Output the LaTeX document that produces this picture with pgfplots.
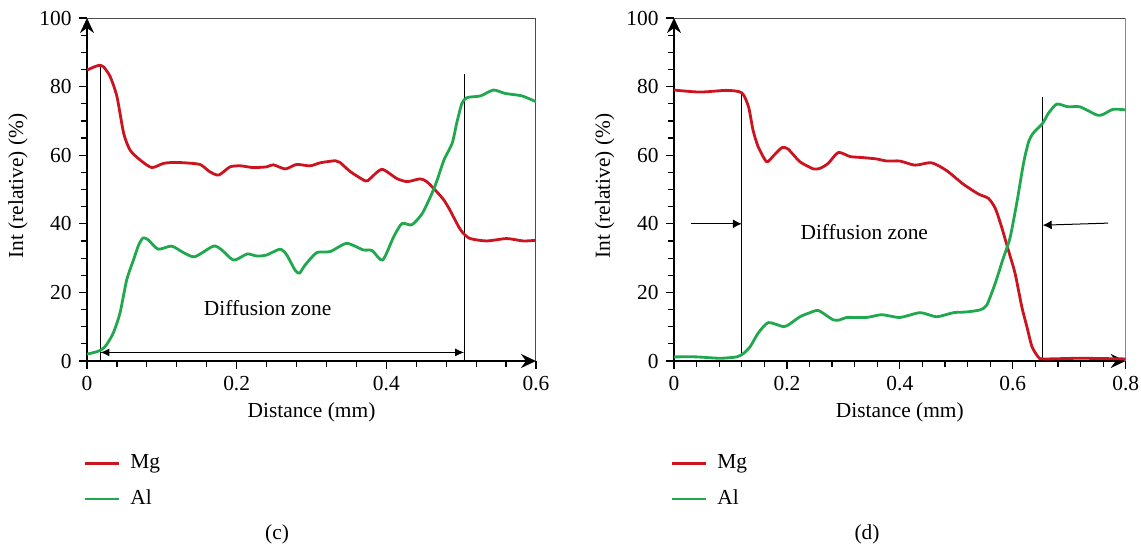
\documentclass[border=0pt]{standalone}
\usepackage{fontspec}
\setmainfont{Liberation Serif}
\usepackage{pgfplots}
\pgfplotsset{compat=1.18}
\usetikzlibrary{arrows.meta}
\definecolor{mgred}{RGB}{204,20,32}
\definecolor{algreen}{RGB}{32,168,78}

\pgfplotsset{
  edsax/.style={
    scale only axis,
    anchor=south west,
    height=171.5pt,
    axis lines=left,
    axis line style={line width=0.9pt,-{Stealth[length=7.5pt,width=7pt,inset=2.5pt]}},
    enlargelimits=false,
    ymin=0, ymax=100,
    ytick={0,20,...,100},
    minor y tick num=3,
    minor x tick num=4,
    tick align=outside,
    major tick length=4pt,
    minor tick length=3pt,
    tick style={line width=0.6pt,black},
    /pgf/number format/assume math mode=true,
    xlabel={Distance (mm)},
    ylabel={Int (relative) (\%)},
    every axis x label/.style={at={(axis description cs:0.5,-0.149)},anchor=center},
    every axis y label/.style={at={(axis description cs:-0.1535,0.51)},rotate=90,anchor=center},
    legend style={at={(axis description cs:0,-0.249)},anchor=north west,draw=none,fill=none,
      row sep=5pt,column sep=3pt,inner xsep=0pt,xshift=-2pt},
    legend cell align=left,
    every axis plot/.append style={line width=1.4pt,line join=round,smooth,tension=0.4},
  }
}

\begin{document}
\fontsize{10.7}{12.8}\selectfont
\begin{tikzpicture}
\useasboundingbox (0,0) rectangle (570.5pt,274pt);

% (c)
\begin{axis}[edsax,
  at={(43.5pt,93.5pt)},
  width=224.5pt,
  xmin=0, xmax=0.6,
  xtick={0,0.2,0.4,0.6},
]
\draw[black!70,line width=0.6pt] (axis cs:0,100) -- (axis cs:0.6,100) -- (axis cs:0.6,0);
\draw[line width=0.5pt] (axis cs:0.018,0) -- (axis cs:0.018,86);
\draw[line width=0.5pt] (axis cs:0.504,0) -- (axis cs:0.504,83.7);
\draw[line width=0.5pt,{Latex[length=4.5pt,width=4pt]}-{Latex[length=4.5pt,width=4pt]}]
  (axis cs:0.018,2.5) -- (axis cs:0.504,2.5);
\node at (axis cs:0.2414,15.45) {Diffusion zone};
\addplot[mgred] coordinates {
  (0,84.8)(0.008,85.6)(0.016,86.2)(0.022,85.8)(0.031,82.9)(0.040,77.1)(0.049,66.4)
  (0.0575,61.5)(0.071,58.6)(0.0865,56.4)(0.102,57.6)(0.115,57.9)(0.129,57.8)(0.151,57.3)
  (0.164,55.2)(0.176,54.2)(0.191,56.6)(0.205,56.9)(0.222,56.4)(0.240,56.6)(0.249,57.2)
  (0.265,56.0)(0.280,57.3)(0.298,56.9)(0.312,57.8)(0.332,58.4)(0.338,57.9)(0.352,55.2)
  (0.372,52.5)(0.378,53.1)(0.394,55.9)(0.414,53.2)(0.428,52.3)(0.445,53.1)(0.454,52.3)
  (0.468,49.2)(0.477,46.9)(0.485,44.0)(0.497,39.0)(0.503,37.2)(0.512,35.7)(0.534,35.0)
  (0.561,35.7)(0.583,35.0)(0.6,35.2)};
\addlegendentry{Mg}
\addplot[algreen] coordinates {
  (0,2.0)(0.013,2.7)(0.020,3.4)(0.026,4.7)(0.035,8.1)(0.044,13.9)(0.053,23.6)(0.062,29.4)
  (0.069,33.8)(0.075,35.9)(0.082,35.3)(0.095,32.6)(0.113,33.5)(0.129,31.6)(0.144,30.4)
  (0.169,33.5)(0.180,32.4)(0.196,29.4)(0.214,31.2)(0.227,30.6)(0.240,30.9)(0.258,32.6)
  (0.267,30.9)(0.278,26.5)(0.284,25.6)(0.2915,28.0)(0.307,31.6)(0.325,31.9)(0.347,34.3)
  (0.369,32.4)(0.381,32.2)(0.395,29.4)(0.410,36.3)(0.421,40.1)(0.434,39.7)(0.448,43.0)
  (0.461,48.9)(0.468,52.8)(0.477,58.6)(0.488,63.5)(0.494,69.3)(0.501,75.1)(0.508,76.8)
  (0.526,77.3)(0.543,79.0)(0.559,78.0)(0.581,77.3)(0.6,75.6)};
\addlegendentry{Al}
\end{axis}

% (d)
\begin{axis}[edsax,
  at={(337pt,93.5pt)},
  width=225.85pt,
  xmin=0, xmax=0.8,
  xtick={0,0.2,0.4,0.6,0.8},
]
\draw[black!70,line width=0.6pt] (axis cs:0,100) -- (axis cs:0.8,100) -- (axis cs:0.8,0);
\draw[line width=0.5pt] (axis cs:0.12,1.7) -- (axis cs:0.12,78.2);
\draw[line width=0.5pt] (axis cs:0.653,0.7) -- (axis cs:0.653,77);
\draw[line width=0.5pt,-{Latex[length=4.5pt,width=4.5pt]}] (axis cs:0.030,40) -- (axis cs:0.12,40);
\draw[line width=0.5pt,-{Latex[length=4.5pt,width=4.5pt]}] (axis cs:0.769,40.2) -- (axis cs:0.653,39.6);
\node at (axis cs:0.337,37.7) {Diffusion zone};
\addplot[mgred] coordinates {
  (0,79.0)(0.046,78.4)(0.093,78.9)(0.120,78.2)(0.132,74.1)(0.140,67.3)(0.149,62.5)
  (0.164,58.1)(0.176,59.8)(0.191,62.2)(0.202,61.8)(0.223,58.1)(0.247,56.0)(0.259,56.2)
  (0.273,57.6)(0.291,60.8)(0.312,59.6)(0.335,59.3)(0.359,58.9)(0.377,58.3)(0.400,58.3)
  (0.427,57.1)(0.456,57.8)(0.483,55.5)(0.512,51.6)(0.539,48.7)(0.557,47.4)(0.569,44.5)
  (0.580,39.2)(0.592,32.4)(0.604,25.6)(0.616,15.8)(0.625,10.0)(0.634,4.2)(0.645,1.2)
  (0.654,0.6)(0.719,0.8)(0.8,0.6)};
\addlegendentry{Mg}
\addplot[algreen] coordinates {
  (0,1.2)(0.040,1.2)(0.081,0.8)(0.111,1.2)(0.123,2.2)(0.135,4.2)(0.149,8.1)(0.167,11.2)
  (0.194,10.0)(0.205,10.8)(0.223,12.9)(0.241,14.1)(0.256,14.7)(0.282,12.0)(0.294,12.0)
  (0.306,12.7)(0.341,12.7)(0.368,13.5)(0.400,12.7)(0.436,14.1)(0.465,12.9)(0.495,14.1)
  (0.518,14.3)(0.542,14.9)(0.554,16.3)(0.569,22.7)(0.583,29.9)(0.595,35.8)(0.607,46.0)
  (0.619,57.6)(0.628,63.9)(0.636,66.4)(0.653,69.3)(0.663,72.2)(0.678,74.9)(0.698,74.1)
  (0.719,74.1)(0.749,71.7)(0.760,71.9)(0.778,73.4)(0.8,73.2)};
\addlegendentry{Al}
\end{axis}

\node at (138.5pt,7pt) {(c)};
\node at (433.5pt,7pt) {(d)};
\end{tikzpicture}
\end{document}
